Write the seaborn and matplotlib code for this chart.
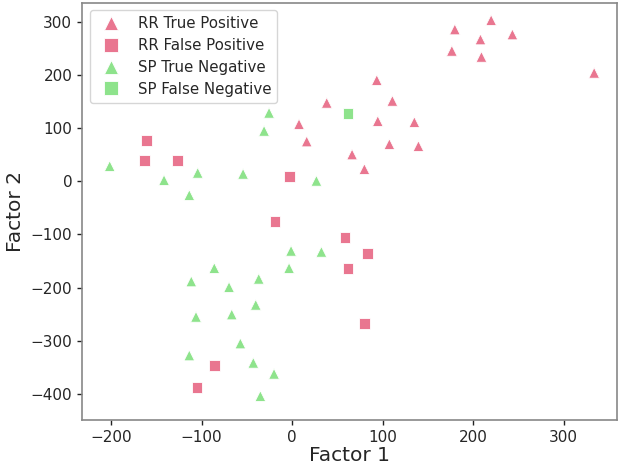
import pandas as pd
import matplotlib
matplotlib.use("Agg")
import matplotlib.pyplot as plt
import seaborn as sns

# Factor scores
rr_tp_x = [179.8, 219.9, 208.1, 243.4, 176.5, 209.2, 333.7, 93.6, 38.3, 110.8,
           7.7, 94.7, 135.1, 16.2, 107.5, 139.6, 66.3, 79.9]
rr_tp_y = [285.2, 302.6, 266.4, 275.8, 244.9, 233.6, 203.6, 189.8, 147.2, 150.9,
           107.1, 112.8, 110.9, 74.6, 69.5, 65.8, 50.2, 22.6]

rr_fp_x = [-161.0, -163.2, -126.3, -3.0, -18.8, 58.6, 83.2, 61.9, 79.9, -85.9, -105.0]
rr_fp_y = [76.5, 38.9, 38.9, 8.1, -76.5, -105.8, -135.9, -163.5, -266.9, -345.9, -387.8]

sp_tn_x = [-201.4, -141.4, -104.2, -113.5, -54.1, -25.4, -30.9, 26.9, -1.1, 32.4,
           -3.3, -85.9, -111.3, -36.8, -69.6, -40.1, -106.1, -66.6, -57.1, -113.5,
           -42.8, -19.9, -35.0]
sp_tn_y = [28.2, 1.9, 15.6, -26.3, 13.7, 128.4, 94.5, 0.6, -131.0, -132.9,
           -163.5, -163.5, -188.5, -183.6, -199.2, -232.5, -255.1, -250.6, -305.1, -327.6,
           -341.5, -362.2, -404.1]

sp_fn_x = [61.9]
sp_fn_y = [127.3]

groups = ["RR True Positive", "RR False Positive", "SP True Negative", "SP False Negative"]

frames = []
for name, xs, ys in zip(groups,
                        [rr_tp_x, rr_fp_x, sp_tn_x, sp_fn_x],
                        [rr_tp_y, rr_fp_y, sp_tn_y, sp_fn_y]):
    frames.append(pd.DataFrame({"Factor 1": xs, "Factor 2": ys, "group": name}))
df = pd.concat(frames, ignore_index=True)

pink = "#e97690"
green = "#8ee38c"
palette = {groups[0]: pink, groups[1]: pink, groups[2]: green, groups[3]: green}
markers = {groups[0]: "^", groups[1]: "s", groups[2]: "^", groups[3]: "s"}

sns.set_style("white")
plt.rcParams["font.family"] = ["DejaVu Sans"]

fig = plt.figure(figsize=(6.28, 4.66), dpi=100)
ax = fig.add_axes([0.1306, 0.0987, 0.852, 0.895])

sns.scatterplot(data=df, x="Factor 1", y="Factor 2", hue="group", style="group",
                hue_order=groups, style_order=groups,
                palette=palette, markers=markers, s=60, edgecolor="white",
                linewidth=0.6, ax=ax)

ax.set_xlim(-232, 359)
ax.set_ylim(-449, 335)
ax.set_xticks([-200, -100, 0, 100, 200, 300])
ax.set_yticks([-400, -300, -200, -100, 0, 100, 200, 300])
ax.tick_params(labelsize=11, color="#222222", length=3.5, width=1, pad=3.5,
               bottom=True, left=True)
for sp in ax.spines.values():
    sp.set_color("#888888")
    sp.set_linewidth(1.2)
ax.set_xlabel("Factor 1", fontsize=14.5, labelpad=1)
ax.set_ylabel("Factor 2", fontsize=14.5, labelpad=4)

handles, labels = ax.get_legend_handles_labels()
ax.legend(handles, labels, loc="upper left", fontsize=10.8, frameon=True,
          markerscale=1.3, handletextpad=0.8, labelspacing=0.45,
          borderaxespad=0.5)

fig.savefig("out.png", dpi=100)
